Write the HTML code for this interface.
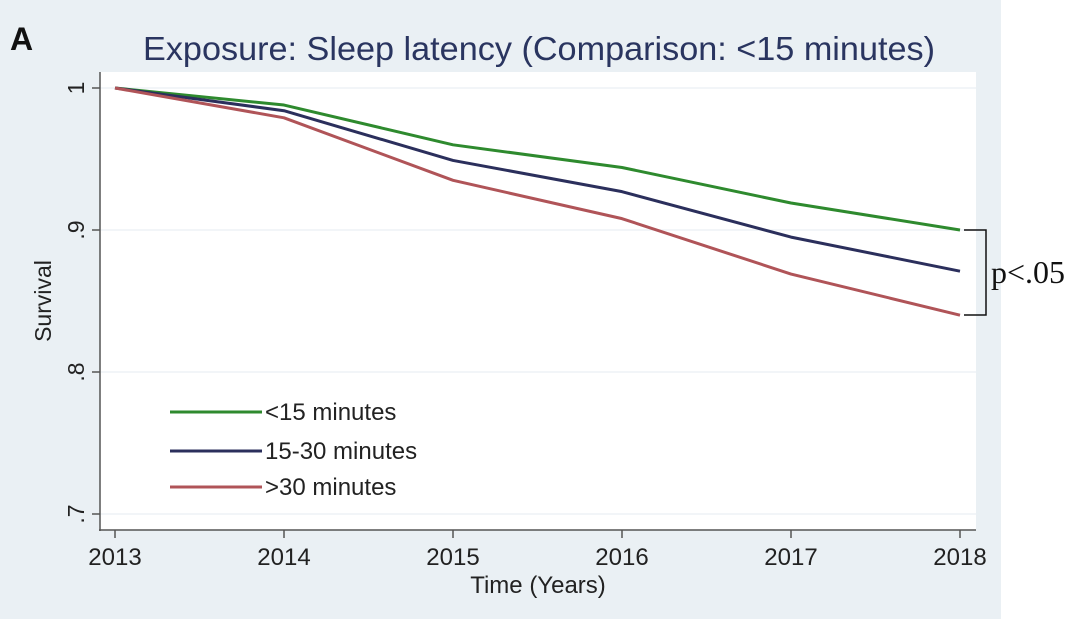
<!DOCTYPE html>
<html><head><meta charset="utf-8"><style>
html,body{margin:0;padding:0;background:#fff;width:1080px;height:619px;overflow:hidden}
svg{display:block;font-family:"Liberation Sans",sans-serif}
</style></head><body>
<svg width="1080" height="619">
<rect x="0" y="0" width="1001" height="619" fill="#eaf0f4"/>
<rect x="100" y="72" width="876" height="458" fill="#ffffff"/>
<text x="10" y="50" font-size="32" font-weight="bold" fill="#111">A</text>
<text x="539" y="60" font-size="33" fill="#2a3560" text-anchor="middle" textLength="792" lengthAdjust="spacingAndGlyphs">Exposure: Sleep latency (Comparison: &lt;15 minutes)</text>
<g id="grid"></g><g id="axes"></g><g id="series"></g>
<text x="51" y="301" font-size="23" fill="#222" text-anchor="middle" transform="rotate(-90 51 301)">Survival</text>
<text x="538" y="593" font-size="24" fill="#222" text-anchor="middle">Time (Years)</text>
<g>
<line x1="170" y1="412" x2="262" y2="412" stroke="#2e8a2e" stroke-width="3"/>
<text x="265" y="420" font-size="24" fill="#222">&lt;15 minutes</text>
<line x1="170" y1="451" x2="262" y2="451" stroke="#2b2f5c" stroke-width="3"/>
<text x="265" y="459" font-size="24" fill="#222">15-30 minutes</text>
<line x1="170" y1="487" x2="262" y2="487" stroke="#b05458" stroke-width="3"/>
<text x="265" y="495" font-size="24" fill="#222">&gt;30 minutes</text>
</g>
<path d="M964 230 H986 V315 H964" fill="none" stroke="#111" stroke-width="1.5"/>
<text x="991" y="283" font-size="32" fill="#111" font-family="Liberation Serif, serif">p&lt;.05</text>
</svg>
<script>
const years=[2013,2014,2015,2016,2017,2018];
const lt15=[1,0.988,0.960,0.944,0.919,0.900];
const mid=[1,0.984,0.949,0.927,0.895,0.871];
const gt30=[1,0.979,0.935,0.908,0.869,0.840];
const yTicks=[1,0.9,0.8,0.7];
const yTickLabels=["1",".9",".8",".7"];
const NS="http://www.w3.org/2000/svg";
const xs=v=>115+(v-2013)*169;
const ys=v=>88+(1-v)*1420;
function mk(t,a,p){const e=document.createElementNS(NS,t);for(const k in a)e.setAttribute(k,a[k]);p.appendChild(e);return e;}
const grid=document.getElementById('grid'),axes=document.getElementById('axes'),ser=document.getElementById('series');
yTicks.forEach((v,i)=>{
 const g=mk('line',{x1:100,x2:976,y1:ys(v),y2:ys(v),stroke:'#eef2f5','stroke-width':1.5},grid);
 
 
 const t=mk('line',{x1:92,x2:100,y1:ys(v),y2:ys(v),stroke:'#555','stroke-width':1.5},axes);
 
 
 const l=mk('text',{x:78,y:ys(v),'font-size':23,fill:'#222','text-anchor':'middle',transform:`rotate(-90 78 ${ys(v)})`,'dominant-baseline':'middle'},axes);
 l.textContent=yTickLabels[i];
 
 
});
const ya=mk('line',{x1:100,x2:100,y1:72,y2:531,stroke:'#555','stroke-width':1.5},axes);


const xa=mk('line',{x1:99,x2:976,y1:530,y2:530,stroke:'#555','stroke-width':1.5},axes);


years.forEach(y=>{
 const t=mk('line',{x1:xs(y),x2:xs(y),y1:530,y2:538,stroke:'#555','stroke-width':1.5},axes);
 
 
 const l=mk('text',{x:xs(y),y:565,'font-size':24,fill:'#222','text-anchor':'middle'},axes);
 l.textContent=y;
 
 
});
[[lt15,'#2e8a2e','line-lt15'],[mid,'#2b2f5c','line-15-30'],[gt30,'#b05458','line-gt30']].forEach(([d,c,n])=>{
 const p=mk('polyline',{points:d.map((v,i)=>xs(years[i])+','+ys(v)).join(' '),fill:'none',stroke:c,'stroke-width':3,'stroke-linejoin':'round'},ser);
 
 
});
</script>
</body></html>
